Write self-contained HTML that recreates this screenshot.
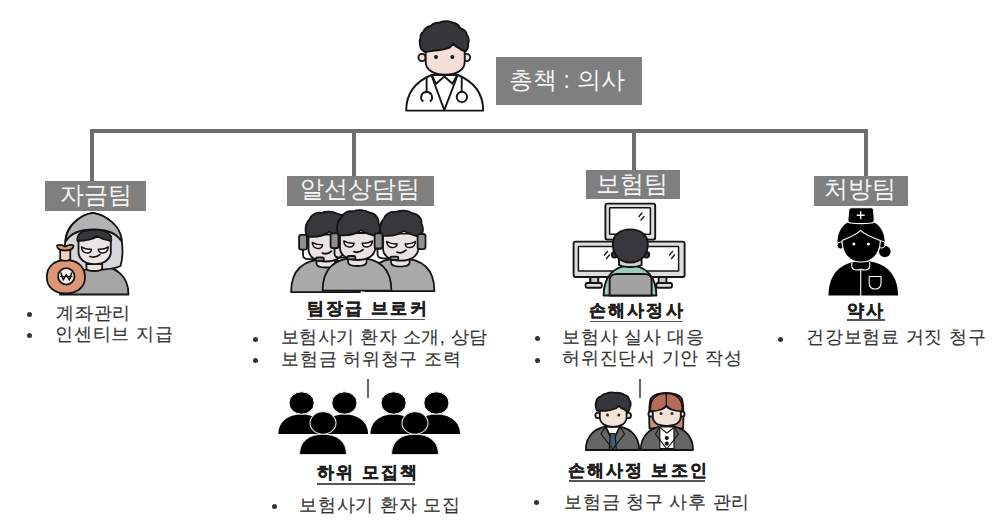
<!DOCTYPE html>
<html><head><meta charset="utf-8">
<style>
html,body{margin:0;padding:0;background:#fff;}
body{width:1000px;height:531px;position:relative;overflow:hidden;font-family:"Liberation Sans",sans-serif;}
.a{position:absolute;}
.ln{position:absolute;background:#6e6e6e;}
.box{position:absolute;background:#7f7f7f;}
.t{position:absolute;white-space:nowrap;line-height:1;}
.lab{color:#f4f4f4;font-size:24px;}
.bt{color:#333;font-size:18px;letter-spacing:0.75px;-webkit-text-stroke:0.15px #333;}
.ti{color:#1e1e1e;font-size:17px;font-weight:bold;letter-spacing:2.15px;-webkit-text-stroke:0.45px #1e1e1e;}
.ul{position:absolute;height:1.6px;background:#555;}
.dot{position:absolute;width:5px;height:5px;border-radius:50%;background:#333;}
svg{position:absolute;overflow:visible;}
</style></head><body>
<!-- connector lines -->
<div class="ln" style="left:90px;top:129px;width:778px;height:4px"></div>
<div class="ln" style="left:90px;top:129px;width:4px;height:52px"></div>
<div class="ln" style="left:352px;top:129px;width:4px;height:47px"></div>
<div class="ln" style="left:632px;top:129px;width:4px;height:41px"></div>
<div class="ln" style="left:864px;top:129px;width:4px;height:47px"></div>
<div class="ln" style="left:367px;top:379px;width:1.5px;height:19px;background:#666"></div>
<div class="ln" style="left:639px;top:379px;width:1.5px;height:19px;background:#666"></div>

<!-- top label -->
<div class="box" style="left:496px;top:57px;width:146px;height:48px"></div>
<div class="t lab" style="left:508.5px;top:68px">총책 : 의사</div>

<!-- team labels -->
<div class="box" style="left:45px;top:181px;width:101px;height:30px"></div>
<div class="t lab" style="left:60px;top:183px">자금팀</div>
<div class="box" style="left:287px;top:176px;width:147px;height:30px"></div>
<div class="t lab" style="left:300px;top:176.5px">알선상담팀</div>
<div class="box" style="left:586px;top:170px;width:94px;height:29px"></div>
<div class="t lab" style="left:596px;top:172px">보험팀</div>
<div class="box" style="left:814px;top:176px;width:94px;height:30px"></div>
<div class="t lab" style="left:824px;top:176.5px">처방팀</div>

<!-- bullets: team 1 -->
<div class="dot" style="left:27px;top:312px"></div>
<div class="t bt" style="left:56px;top:304px">계좌관리</div>
<div class="dot" style="left:27px;top:333px"></div>
<div class="t bt" style="left:55px;top:325px">인센티브 지급</div>

<!-- team 2 -->
<div class="t ti" style="left:307px;top:300px">팀장급 브로커</div>
<div class="ul" style="left:307px;top:318.5px;width:118px"></div>
<div class="dot" style="left:253px;top:337px"></div>
<div class="t bt" style="left:281px;top:328px;letter-spacing:0.48px">보험사기 환자 소개, 상담</div>
<div class="dot" style="left:253px;top:358px"></div>
<div class="t bt" style="left:281px;top:350px">보험금 허위청구 조력</div>

<!-- team 3 -->
<div class="t ti" style="left:589px;top:302px">손해사정사</div>
<div class="ul" style="left:590px;top:320.5px;width:93px"></div>
<div class="dot" style="left:535px;top:336px"></div>
<div class="t bt" style="left:562px;top:328px">보험사 실사 대응</div>
<div class="dot" style="left:535px;top:358px"></div>
<div class="t bt" style="left:562px;top:349px">허위진단서 기안 작성</div>

<!-- team 4 -->
<div class="t ti" style="left:847px;top:302px">약사</div>
<div class="ul" style="left:847px;top:319px;width:38px"></div>
<div class="dot" style="left:778px;top:337px"></div>
<div class="t bt" style="left:806px;top:328px">건강보험료 거짓 청구</div>

<!-- sub groups -->
<div class="t ti" style="left:317px;top:464px">하위 모집책</div>
<div class="ul" style="left:317px;top:483px;width:98px"></div>
<div class="dot" style="left:272px;top:504px"></div>
<div class="t bt" style="left:299px;top:496px">보험사기 환자 모집</div>

<div class="t ti" style="left:568px;top:461.5px">손해사정 보조인</div>
<div class="ul" style="left:569px;top:480px;width:136px"></div>
<div class="dot" style="left:534px;top:500px"></div>
<div class="t bt" style="left:564px;top:493px">보험금 청구 사후 관리</div>

<svg style="left:0;top:0" width="1000" height="531" viewBox="0 0 1000 531">
<defs>
<g id="agent">
 <path d="M322.6,290.6 C322.6,269 334,257.8 357,257.8 C380,257.8 391.4,269 391.4,290.6 Z" fill="#a9a9a9"/>
 <path d="M348,255 V262 C348,265 352,266 357.3,266 C362.6,266 366.6,265 366.6,262 V255 Z" fill="#ebe4e0"/>
 <path d="M340,233 V248 C340,255.5 347.5,260 357.6,260 C367.7,260 375.2,255.5 375.2,248 V233 Z" fill="#ebe4e0"/>
 <path d="M338.5,235 C336,230 336.5,222 341,218 C342.5,213 348,210.5 353,211.5 C357,209.5 365,209.5 369,212.5 C375,213 379,218 378.5,223 C381,228 379.5,233 377,236 C371,235 365,233 361,230 C356,234 347,236 338.5,235 Z" fill="#38383c"/>
 <rect x="330.6" y="233.4" width="7.9" height="14.7" rx="2" fill="#8f8f8f"/>
 <rect x="374.6" y="233.4" width="7.9" height="15.1" rx="2" fill="#8f8f8f"/>
 <path d="M334.5,248.3 V253.5 C334.5,256.2 336.5,257.7 340,257.7 H349" fill="none"/>
 <rect x="347.4" y="256" width="8" height="3.4" rx="1.5" fill="#9a9a9a"/>
 <path d="M343.8,241 C346.5,242.5 350.5,243.6 354,243.2 C354,245.8 352,247.2 349.2,247 C346,246.6 344,244 343.8,241 Z" fill="#fff" stroke-width="1.5"/>
 <path d="M372.4,241 C369.7,242.5 365.7,243.6 362.2,243.2 C362.2,245.8 364.2,247.2 367,247 C370.2,246.6 372.2,244 372.4,241 Z" fill="#fff" stroke-width="1.5"/>
 <path d="M354,251.6 C357,252.8 360.5,252 363,249.6" fill="none"/>
</g>
</defs>

<!-- doctor -->
<g stroke="#141414" stroke-width="1.9" stroke-linejoin="round" stroke-linecap="round">
 <path d="M406.2,110.6 C406.2,92 417,81 431.5,75 L457.8,75 C472,81 483.2,92 483.2,110.6 Z" fill="#fff"/>
 <path d="M431.5,75.5 L444.3,110.1 L457.5,75.5" fill="none"/>
 <path d="M432,75.5 L436,83.8 L444.3,76.5 L452.5,83.8 L457,75.5" fill="none"/>
 <path d="M426.6,77.5 V91.8" fill="none"/>
 <path d="M422.8,101 C420,99 420.5,92 426.6,92 C432.7,92 433.2,99 430.4,101" fill="none"/>
 <path d="M461.7,77.5 V91.5" fill="none"/>
 <circle cx="461.9" cy="97" r="5.2" fill="none"/>
 <circle cx="422" cy="57.5" r="3.6" fill="#f4e0d8"/>
 <circle cx="466.6" cy="57.5" r="3.6" fill="#f4e0d8"/>
 <path d="M425.7,45 V62 C425.7,70 434,74.8 445.2,74.8 C456.4,74.8 464.7,70 464.7,62 V45 Z" fill="#f4e0d8"/>
 <path d="M424.6,51.9 C421.5,50 420,47.5 420.1,45.1 C419.5,42 419.5,39.5 420.6,37.2 C420.5,34.5 421.5,32.8 423.5,31.6 C424.5,28.5 427.5,26.5 430.8,25.9 C433,23.5 436.5,22.5 439.9,22.5 C444,21 448.5,21 452.3,22.5 C456,23 459,25.5 460.2,28.2 C464,29.5 466.5,32 467,35 C469,38 469.3,41 468.1,44 C468.5,47 467.5,49.5 465.8,51.3 C463,50.8 461,49.8 459.6,48.5 C456.5,47.5 454.5,45.5 452.9,43.4 C451.8,45.8 450.5,47 448.9,47.9 C445,49.5 441,50 437.6,50.2 C433,50.8 428.5,51.5 424.6,51.9 Z" fill="#37373b"/>
 <circle cx="436" cy="57" r="2" fill="#141414" stroke="none"/>
 <circle cx="452.4" cy="57" r="2" fill="#141414" stroke="none"/>
</g>

<!-- hoodie + money bag -->
<g stroke="#141414" stroke-width="1.8" stroke-linejoin="round" stroke-linecap="round">
 <path d="M60,294.5 C60,276 72,265 94,265 C116,265 128.5,276 128.5,294.5 Z" fill="#a6a6a6"/>
 <path d="M66.8,267 C64.5,256 64,247 65.7,238 C67.5,228 75,220 84,215.5 C87,214 90,213.3 92.8,212.8 C96,213.3 100,214.5 103,216 C112,221 119.5,229 121.7,240 C123,250 123,258 120.5,266 C111,271 76,271 66.8,267 Z" fill="#d5d7db"/>
 <path d="M65.7,241.5 C65.5,232 72,222 84,215.5 C87,214 90,213.3 92.8,212.8 C96,213.3 100,214.5 103,216 C114,222 121.5,230 121.7,241.5 C117,234 109,229.5 94,229.5 C79,229.5 70,234 65.7,241.5 Z" fill="#b2b2b2"/>
 <path d="M86.4,264 V268 C86.4,270 90,271 94.3,271 C98.6,271 102.2,270 102.2,268 V264 Z" fill="#ece6e3"/>
 <path d="M78.5,236 V252 C78.5,259 85,264.2 94.6,264.2 C104.2,264.2 110.8,259 110.8,252 V236 Z" fill="#ece6e3"/>
 <path d="M77.5,241 C76.5,235 80,230 94.3,229.8 C108,229.8 112,235 111.2,241 C106,240 100,238 97,236 C94,239 85,241 77.5,241 Z" fill="#38383c"/>
 <path d="M81.5,247 C84,248.6 88,249.6 91.5,249.2 C91.5,251.8 89.5,253.2 86.7,253 C83.6,252.6 81.7,250 81.5,247 Z" fill="#fff" stroke-width="1.5"/>
 <path d="M108.3,247 C105.8,248.6 101.8,249.6 98.3,249.2 C98.3,251.8 100.3,253.2 103.1,253 C106.2,252.6 108.1,250 108.3,247 Z" fill="#fff" stroke-width="1.5"/>
 <path d="M90,256.5 C93,257.6 97,257 99.8,254.6" fill="none"/>
 <path d="M46.8,277 C46.8,266 55,260 65.8,260 C76.6,260 85,266 85,277 C85,288 76.6,293.4 65.8,293.4 C55,293.4 46.8,288 46.8,277 Z" fill="#dd9675"/>
 <path d="M60.2,249.8 V259.5 C63,261 67.5,261 70.3,259.5 V249.8 Z" fill="#f3d2c2"/>
 <path d="M57,245.5 C60,244 63,245.5 65.3,246.5 C67.5,245.5 70.5,244 73.5,245.5 C73.5,248.8 71,250.5 65.3,250.5 C59.5,250.5 57,248.8 57,245.5 Z" fill="#dd9675"/>
 <circle cx="66.3" cy="276.4" r="8.2" fill="#f6efe4" stroke-width="1.8"/>
 <path d="M61,273 L63.3,280 L66.3,274.5 L69.3,280 L71.6,273" fill="none" stroke-width="1.5"/>
 <path d="M60.5,276.6 H72" fill="none" stroke-width="1.1"/>
</g>

<!-- call center agents -->
<g stroke="#141414" stroke-width="1.8" stroke-linejoin="round" stroke-linecap="round">
 <use href="#agent" transform="translate(-31.5,1.5)"/>
 <use href="#agent" transform="translate(43,0.6)"/>
 <use href="#agent"/>
</g>
<!-- monitor guy -->
<g stroke="#141414" stroke-width="1.9" stroke-linejoin="round" stroke-linecap="round">
 <rect x="605.4" y="203.6" width="49.8" height="36" rx="2" fill="#dedede"/>
 <rect x="609.6" y="207.8" width="40.8" height="26.4" rx="0.5" fill="#fff" stroke-width="1.5"/>
 <path d="M590.4,277 V283.4 M598.2,277 V283.4" fill="none"/>
 <rect x="590.4" y="277" width="7.8" height="6.4" fill="#c9c9c9"/>
 <rect x="585.6" y="283" width="16.2" height="4.8" rx="1.5" fill="#dedede"/>
 <rect x="658.6" y="277" width="7.8" height="6.4" fill="#c9c9c9"/>
 <rect x="656.4" y="283" width="15.6" height="4.8" rx="1.5" fill="#dedede"/>
 <rect x="573.6" y="241.6" width="60" height="35.4" rx="2" fill="#dedede"/>
 <rect x="578.4" y="246.4" width="50" height="24.6" rx="0.5" fill="#fff" stroke-width="1.5"/>
 <rect x="627" y="241.6" width="57.6" height="35.4" rx="2" fill="#dedede"/>
 <rect x="632" y="246.4" width="46.6" height="24.6" rx="0.5" fill="#fff" stroke-width="1.5"/>
 <path d="M642,213 L639,216.5 M644,216.5 L641,220" fill="none" stroke-width="1.3"/>
 <path d="M607.5,251.5 L604.5,255 M609.5,255 L606.5,258.5" fill="none" stroke-width="1.3"/>
 <path d="M672.5,251.5 L669.5,255 M674.5,255 L671.5,258.5" fill="none" stroke-width="1.3"/>
 <path d="M603.6,295.5 C603.6,277 614,265.6 630,265.6 C646,265.6 656.4,277 656.4,295.5 Z" fill="#9ccdb5"/>
 <path d="M609.6,295.5 V280 C609.6,276 613,274 617,274 H644 C648,274 651.6,276 651.6,280 V295.5 Z" fill="#a3a3a3"/>
 <path d="M619,256 V265 C622,266.5 626,267 630.3,267 C634.6,267 638.6,266.5 641.6,265 V256 Z" fill="#cfd3d0"/>
 <circle cx="614.6" cy="254.8" r="2.8" fill="#3a3a3e"/>
 <circle cx="646.4" cy="254.8" r="2.8" fill="#3a3a3e"/>
 <path d="M612.8,244 C612.8,236 619,229.4 630.3,229.4 C641.6,229.4 647.8,236 647.8,244 C647.8,255 641,262.6 630.3,262.6 C619.6,262.6 612.8,255 612.8,244 Z" fill="#38383c"/>
</g>

<!-- nurse -->
<g fill="#000" stroke="#fff" stroke-linejoin="round" stroke-linecap="round">
 <path d="M828.5,295.5 C828.5,273 842,261 863,261 C884,261 898,273 898,295.5 Z" stroke="none"/>
 <circle cx="884.8" cy="251.5" r="5.8" stroke="none"/>
 <path d="M837.8,246 C836,231 844,219.5 861,219 C878,219.5 886,231 884.5,246 Z" stroke="none"/>
 <circle cx="840.6" cy="245.5" r="3.6" stroke-width="1"/>
 <circle cx="881.6" cy="244.5" r="3.6" stroke-width="1"/>
 <path d="M842,240.5 C842,254 849.5,262 861,262 C872.5,262 880.3,254 880.3,240.5 C875,238 866,236 860.7,230.4 C855,236 847,238 842,240.5 Z" stroke-width="1.1"/>
 <path d="M851.5,207.8 H871.5 C872.8,207.8 873.5,208.6 873.6,210 L874.3,220 C874.5,222 873.3,222.8 871.5,223 C865,223.8 857,223.8 850.5,223 C848.7,222.8 847.6,222 847.8,220 L848.8,210 C848.9,208.6 849.8,207.8 851.5,207.8 Z" stroke="#fff" stroke-width="1.1"/>
 <path d="M860.7,211.8 V218.6 M857.3,215.2 H864.1" fill="none" stroke-width="1.4"/>
 <circle cx="853.9" cy="244" r="1.5" fill="#fff" stroke="none"/>
 <circle cx="868.3" cy="244" r="1.5" fill="#fff" stroke="none"/>
 <path d="M852,262.5 C851,266 852,270 856,270 C858.5,270 860.7,269.4 860.7,269.4 C860.7,269.4 863,270 865.5,270 C869.5,270 870.5,266 869.5,262.5" fill="none" stroke-width="1.1"/>
 <path d="M860.7,269.4 V296" fill="none" stroke-width="1.1"/>
 <path d="M869.2,276.5 H881 V283 C881,287 878.5,289 875.1,289 C871.7,289 869.2,287 869.2,283 Z" fill="none" stroke-width="1.1"/>
</g>

<!-- groups -->
<g fill="#000">
 <path d="M278.4,434 C278.4,422 288,414.6 301.6,414.6 C315,414.6 324.6,422 324.6,434 Z"/>
 <path d="M321.4,434 C321.4,422 331,414.6 344.4,414.6 C358,414.6 368,422 368,434 Z"/>
 <ellipse cx="301.6" cy="403" rx="12.6" ry="11.2" stroke="#fff" stroke-width="1"/>
 <ellipse cx="344.4" cy="403" rx="12.6" ry="11.2" stroke="#fff" stroke-width="1"/>
 <path d="M299.5,454.5 C299.5,441 309,434.2 323,434.2 C337,434.2 346.5,441 346.5,454.5 Z" stroke="#e0e0e0" stroke-width="1.1"/>
 <ellipse cx="323" cy="423" rx="13" ry="11.2" stroke="#e0e0e0" stroke-width="1.1"/>
 <path d="M370.4,434 C370.4,422 380,414.6 393.6,414.6 C407,414.6 416.6,422 416.6,434 Z"/>
 <path d="M413.4,434 C413.4,422 423,414.6 436.4,414.6 C450,414.6 460,422 460,434 Z"/>
 <ellipse cx="393.6" cy="403" rx="12.6" ry="11.2" stroke="#fff" stroke-width="1"/>
 <ellipse cx="436.4" cy="403" rx="12.6" ry="11.2" stroke="#fff" stroke-width="1"/>
 <path d="M391.5,454.5 C391.5,441 401,434.2 415,434.2 C429,434.2 438.5,441 438.5,454.5 Z" stroke="#e0e0e0" stroke-width="1.1"/>
 <ellipse cx="415" cy="423" rx="13" ry="11.2" stroke="#e0e0e0" stroke-width="1.1"/>
</g>

<!-- suited people -->
<g stroke="#141414" stroke-width="1.8" stroke-linejoin="round" stroke-linecap="round">
 <path d="M585.8,450 C585.8,435 596,426 612.5,426 C629,426 639.2,435 639.2,450 Z" fill="#666"/>
 <path d="M605.5,426.5 L612.8,441.5 L620,426.5 Z" fill="#fff"/>
 <path d="M610.5,433.5 H615 L616.3,449.5 H609.2 Z" fill="#3d5d7e" stroke-width="1.2"/>
 <path d="M605.5,426.5 L601,434 L612.8,449 M620,426.5 L624.5,434 L612.8,449" fill="none" stroke-width="1.2"/>
 <circle cx="598.2" cy="415.4" r="2.8" fill="#f3e3d8"/>
 <circle cx="628.2" cy="415.4" r="2.8" fill="#f3e3d8"/>
 <path d="M599.8,404 V417 C599.8,423 605,426.8 613.2,426.8 C621.4,426.8 626.6,423 626.6,417 V404 Z" fill="#f3e3d8"/>
 <path d="M596.9,410.5 C595.5,407 595.3,404.5 596,402.5 C596.3,399.5 598.3,397.3 600.9,396.4 C602.5,394.5 604.5,393.5 606.9,393.4 C609.5,392.2 612.5,392.3 615.3,392.8 C618.5,392.6 621.8,393.2 623.8,394.6 C627,395.5 629,397.5 629.2,400 C631,402 631,405 629.8,407.3 C629.8,409.3 629,411 628,412 C626.5,411 625,410 623.8,409 C621.5,408.5 620,407.5 618.9,406 C617.5,407.5 616,408.5 614.1,409 C611.5,410 608.5,410.7 605.7,410.9 C602.5,411 599.5,410.8 596.9,410.5 Z" fill="#37373b"/>
 <circle cx="607.5" cy="414.9" r="1.5" fill="#3a2a22" stroke="none"/>
 <circle cx="618.8" cy="414.9" r="1.5" fill="#3a2a22" stroke="none"/>

 <path d="M649.5,428.5 C649,416 648.6,404 650.8,398.5 C653.5,394.5 659.5,392.8 666.3,392.8 C673.1,392.8 679.1,394.5 681.8,398.5 C684,404 683.6,416 683.1,428.5 Z" fill="#c49080"/>
 <path d="M640.8,450 C640.8,435 651,426 667,426 C683,426 693,435 693,450 Z" fill="#666"/>
 <path d="M659.8,427 H674 V448.5 H659.8 Z" fill="#fff" stroke-width="1.2"/>
 <path d="M659.8,427 L655.5,434 L666.8,449 M674,427 L678.5,434 L666.8,449" fill="none" stroke-width="1.2"/>
 <path d="M660.5,428 L666.8,433 L673.3,428" fill="none" stroke-width="1.1"/>
 <circle cx="666.8" cy="438" r="1.2" fill="#141414"/>
 <circle cx="666.8" cy="443.6" r="1.2" fill="#141414"/>
 <circle cx="651" cy="414" r="2.6" fill="#f3e3d8"/>
 <circle cx="682" cy="414" r="2.6" fill="#f3e3d8"/>
 <path d="M652.8,404 V416 C652.8,422.5 658,425.8 666.6,425.8 C675.2,425.8 680.8,422.5 680.8,416 V404 Z" fill="#f3e3d8"/>
 <path d="M650.3,411 C649.5,399 656,393.3 666.3,393.3 C676.6,393.3 683.1,399 682.3,411 C675,411.5 668,409 666.3,405.5 C664.5,409 657.5,411.5 650.3,411 Z" fill="#b96c55"/>
 <path d="M666.3,394 V405" fill="none" stroke-width="1.3"/>
 <circle cx="661" cy="413.5" r="1.5" fill="#3a2a22" stroke="none"/>
 <circle cx="672" cy="413.5" r="1.5" fill="#3a2a22" stroke="none"/>
</g>
</svg>


</body></html>
